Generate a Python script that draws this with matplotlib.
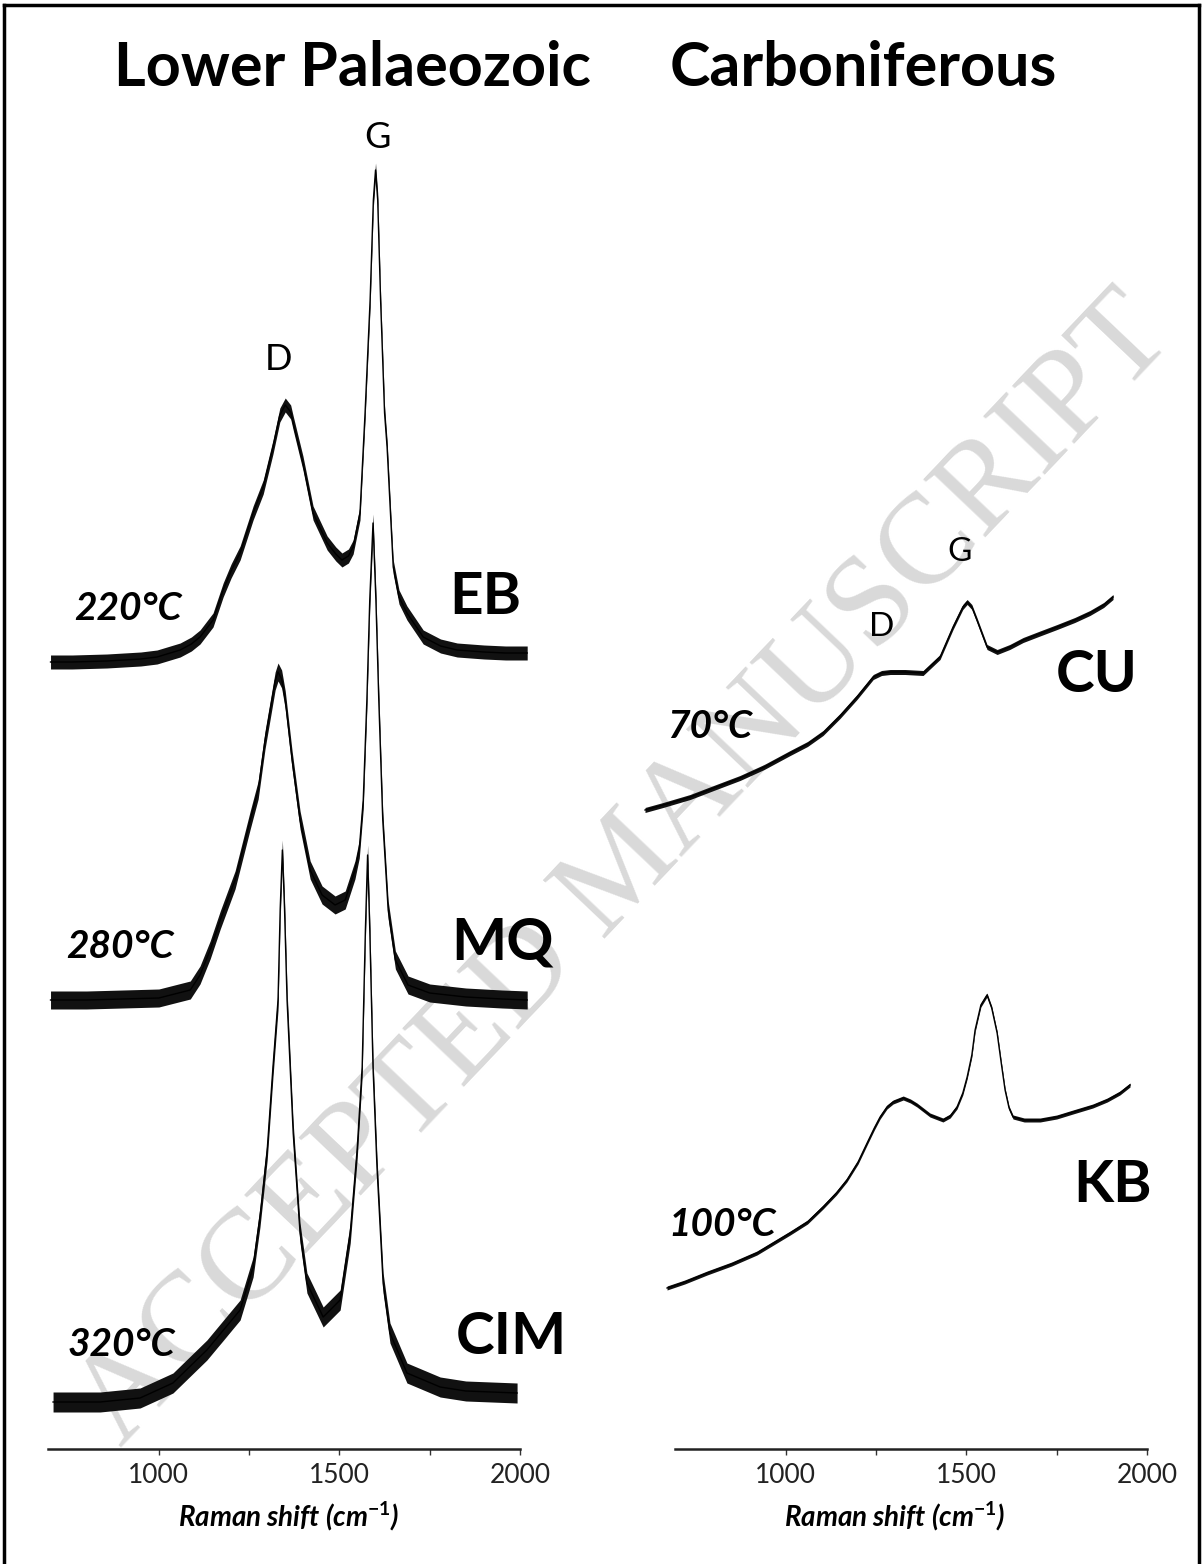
import matplotlib
matplotlib.use("Agg")
import matplotlib.pyplot as plt
from matplotlib.lines import Line2D

# ---- spectra (Raman shift cm-1, intensity a.u., already stacked) ----
eb_x = [700, 760, 856, 950, 995, 1059, 1090, 1114, 1150, 1178, 1200, 1225, 1261, 1289, 1316,
        1335, 1350, 1365, 1372, 1399, 1427, 1466, 1490, 1507, 1525, 1538, 1557, 1571, 1585, 1594,
        1600, 1606, 1614, 1625, 1632, 1649, 1665, 1687, 1732, 1780, 1826, 1900, 1960, 2020]
eb_y = [787, 787, 788, 790, 792, 799, 805, 812, 829, 859, 878, 896, 936, 962, 1002,
        1034, 1044, 1037, 1026, 986, 936, 906, 895, 889, 893, 902, 936, 1036, 1149, 1249,
        1279, 1249, 1149, 1036, 1002, 882, 852, 836, 812, 803, 799, 797, 796, 796]

mq_x = [700, 800, 900, 1000, 1087, 1114, 1142, 1170, 1211, 1253, 1275, 1294, 1313, 1322, 1330,
        1340, 1350, 1369, 1391, 1419, 1452, 1488, 1516, 1543, 1555, 1566, 1576, 1584, 1593, 1601,
        1609, 1620, 1635, 1655, 1690, 1750, 1850, 1950, 2020]
mq_y = [449, 449, 450, 451, 459, 474, 499, 529, 569, 629, 659, 709, 749, 768, 777,
        770, 749, 689, 629, 579, 554, 544, 549, 579, 600, 649, 749, 849, 926, 849,
        749, 629, 539, 489, 464, 456, 452, 450, 449]

cim_x = [707, 837, 948, 1039, 1133, 1225, 1261, 1280, 1300, 1316, 1330, 1336, 1342, 1348, 1355,
         1372, 1391, 1410, 1455, 1502, 1530, 1549, 1563, 1572, 1578, 1584, 1593, 1604, 1621, 1640,
         1687, 1779, 1850, 1992]
cim_y = [47, 47, 51, 66, 99, 139, 182, 232, 299, 382, 449, 540, 599, 540, 449,
         316, 216, 166, 132, 149, 216, 299, 382, 520, 594, 520, 382, 282, 166, 116,
         76, 62, 58, 56]

cu_x = [610, 660, 735, 800, 873, 940, 1012, 1060, 1103, 1150, 1197, 1242, 1265, 1289, 1330,
        1380, 1427, 1463, 1490, 1502, 1515, 1529, 1557, 1585, 1620, 1657, 1700, 1751, 1800, 1842,
        1880, 1906]
cu_y = [639, 644, 652, 661, 671, 682, 696, 705, 716, 733, 752, 772, 776, 777, 777,
        776, 792, 822, 842, 847, 842, 829, 802, 797, 802, 809, 815, 822, 829, 836,
        844, 852]

kb_x = [671, 720, 782, 850, 920, 1012, 1060, 1103, 1140, 1169, 1200, 1225, 1245, 1261, 1280,
        1297, 1325, 1345, 1363, 1399, 1435, 1455, 1474, 1490, 1502, 1515, 1524, 1540, 1557, 1570,
        1585, 1596, 1607, 1618, 1629, 1660, 1704, 1750, 1795, 1850, 1890, 1925, 1953]
kb_y = [161, 167, 176, 185, 196, 216, 227, 242, 256, 269, 287, 306, 321, 332, 342,
        347, 351, 348, 344, 334, 329, 333, 342, 356, 372, 394, 419, 444, 454, 441,
        416, 387, 359, 341, 332, 329, 329, 332, 337, 343, 349, 356, 364]

# noise band half-width of each trace (a.u.)
noise = {"EB": 7, "MQ": 9, "CIM": 10, "CU": 2.5, "KB": 2}

samples = ["EB", "MQ", "CIM", "CU", "KB"]
temps = ["220°C", "280°C", "320°C", "70°C", "100°C"]
groups = ["Lower Palaeozoic", "Carboniferous"]

FONT = "Lato"
W, H = 1203, 1564

plt.rcParams["mathtext.fontset"] = "custom"
plt.rcParams["mathtext.rm"] = FONT
plt.rcParams["mathtext.bf"] = FONT + ":bold"


def fx(px):
    return px / W


def fy(py):
    return 1 - py / H


fig = plt.figure(figsize=(W / 100, H / 100), dpi=100)

ax_l = fig.add_axes([fx(48), fy(1449), fx(529 - 48), (1449 - 100) / H])
ax_r = fig.add_axes([fx(641.4), fy(1449), fx(1147 - 641.4), (1449 - 100) / H])
ax_l.set_xlim(693, 2025)
ax_r.set_xlim(600, 2000)

traces = {"EB": (ax_l, eb_x, eb_y), "MQ": (ax_l, mq_x, mq_y), "CIM": (ax_l, cim_x, cim_y),
          "CU": (ax_r, cu_x, cu_y), "KB": (ax_r, kb_x, kb_y)}
for name in samples:
    ax, xs, ys = traces[name]
    n = noise[name]
    ax.fill_between(xs, [v - n for v in ys], [v + n for v in ys], color="#111111", lw=0, zorder=3)
    ax.plot(xs, ys, color="k", lw=1.0, zorder=4)

for ax in (ax_l, ax_r):
    ax.set_ylim(0, 1349)
    ax.patch.set_alpha(0)
    for s in ("top", "left", "right"):
        ax.spines[s].set_visible(False)
    ax.spines["bottom"].set_bounds(693, 2000)
    ax.spines["bottom"].set_linewidth(1.8)
    ax.spines["bottom"].set_color("#222222")
    ax.set_yticks([])
    ax.set_xticks([1000, 1500, 2000])
    ax.set_xticks([1250, 1750], minor=True)
    ax.tick_params(axis="x", which="both", direction="out", length=4, width=1,
                   color="#333333", pad=6, labelsize=19, labelcolor="#222222")
    for lab in ax.get_xticklabels():
        lab.set_family(FONT)
    ax.set_xlabel("Raman shift (cm$^{\\mathbf{-1}}$)", fontsize=20, fontweight="bold",
                  fontstyle="italic", family=FONT, labelpad=8)

# sample / temperature labels
lab_pos = {"EB": (1903, 851), "MQ": (1951, 506), "CIM": (1976, 111),
           "CU": (1862, 774), "KB": (1906, 264)}
temp_pos = [(915, 841), (892, 503), (895, 104), (790, 722), (823, 225)]
for name, t, tp in zip(samples, temps, temp_pos):
    ax = traces[name][0]
    ax.text(*lab_pos[name], name, ha="center", va="center", fontsize=42,
            fontweight="bold", family=FONT, zorder=5)
    ax.text(*tp, t, ha="center", va="center", fontsize=28, fontweight="bold",
            fontstyle="italic", family=FONT, zorder=5)

# band labels
ax_l.text(1604, 1311, "G", ha="center", va="center", fontsize=26, family=FONT)
ax_l.text(1330, 1089, "D", ha="center", va="center", fontsize=26, family=FONT)
ax_r.text(1482, 897, "G", ha="center", va="center", fontsize=24, family=FONT)
ax_r.text(1264, 822, "D", ha="center", va="center", fontsize=24, family=FONT)

# group titles
fig.text(fx(352), fy(86), groups[0], ha="center", va="baseline", fontsize=44,
         fontweight="bold", family=FONT)
fig.text(fx(863), fy(86), groups[1], ha="center", va="baseline", fontsize=44,
         fontweight="bold", family=FONT)

# watermark
fig.text(fx(626), fy(872), "ACCEPTED MANUSCRIPT", ha="center", va="center",
         rotation=46.5, rotation_mode="anchor", fontsize=93, color="#d9d9d9",
         family="Liberation Serif", zorder=-1)

# frame around the figure (bottom is cut off in the original)
for xs, ys in (((4, 4), (1564, 5)), ((4, 1199), (5, 5)), ((1199, 1199), (5, 1564))):
    fig.add_artist(Line2D([fx(v) for v in xs], [fy(v) for v in ys], color="k", lw=2.5))

fig.savefig("out.png", dpi=100)
